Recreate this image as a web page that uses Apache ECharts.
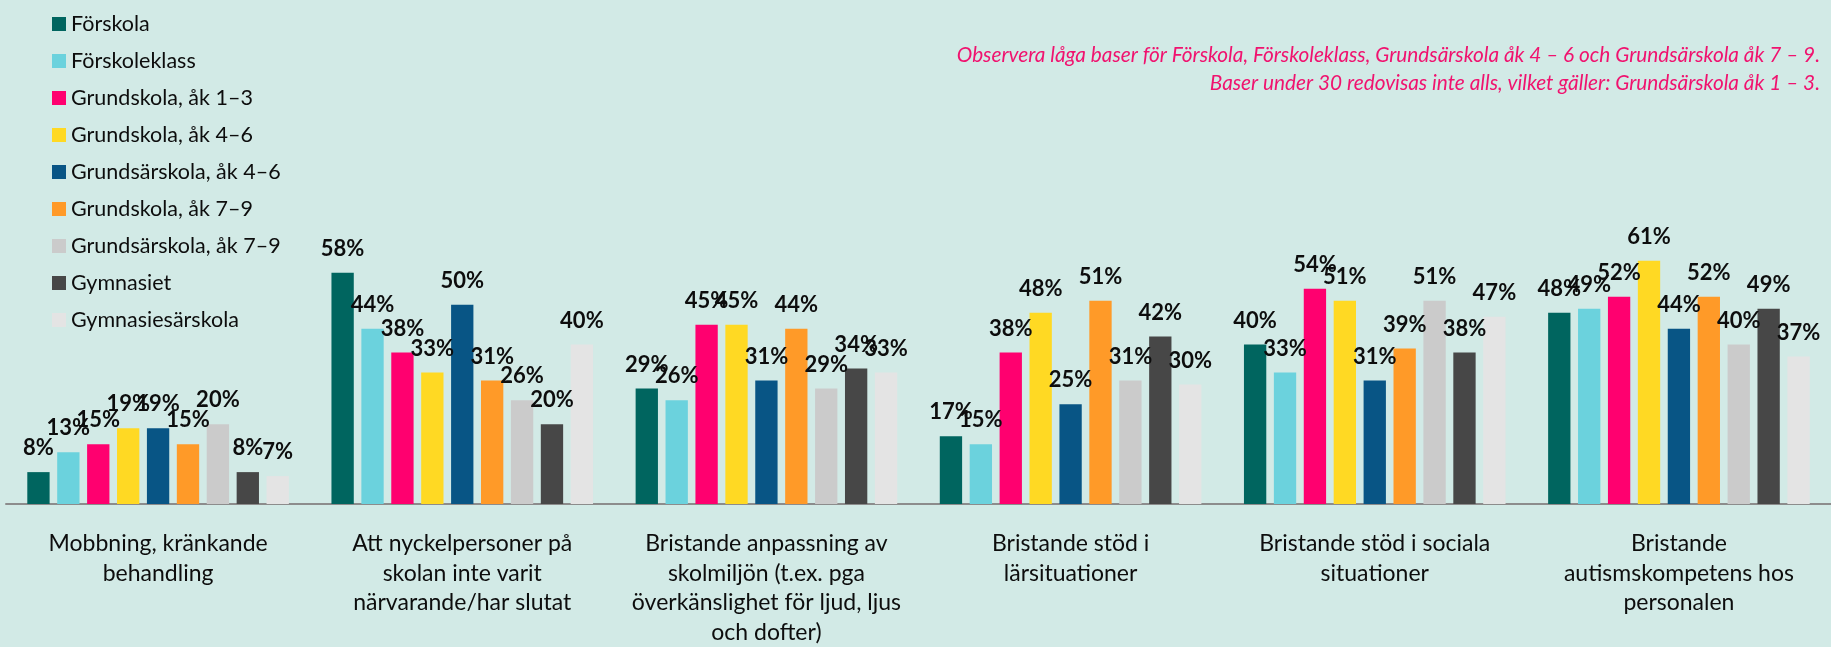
<!DOCTYPE html>
<html lang="sv">
<head>
  <meta charset="UTF-8">
  <title>Orsaker</title>
  <script src="https://cdn.jsdelivr.net/npm/echarts@6/dist/echarts.min.js"></script>
  <style>
    html, body { margin: 0; padding: 0; background: #d2eae6; }
    #chart { width: 1831px; height: 647px; }
  </style>
</head>
<body>
  <div id="chart"></div>
  <script>
    // kategorier på x-axeln
    var categories = [
      'Mobbning, kränkande\nbehandling',
      'Att nyckelpersoner på\nskolan inte varit\nnärvarande/har slutat',
      'Bristande anpassning av\nskolmiljön (t.ex. pga\növerkänslighet för ljud, ljus\noch dofter)',
      'Bristande stöd i\nlärsituationer',
      'Bristande stöd i sociala\nsituationer',
      'Bristande\nautismskompetens hos\npersonalen'
    ];

    // värden i procent, en lista per skolform
    var forskola         = [8, 58, 29, 17, 40, 48];
    var forskoleklass    = [13, 44, 26, 15, 33, 49];
    var grundskola13     = [15, 38, 45, 38, 54, 52];
    var grundskola46     = [19, 33, 45, 48, 51, 61];
    var grundsarskola46  = [19, 50, 31, 25, 31, 44];
    var grundskola79     = [15, 31, 44, 51, 39, 52];
    var grundsarskola79  = [20, 26, 29, 31, 51, 40];
    var gymnasiet        = [8, 20, 34, 42, 38, 49];
    var gymnasiesarskola = [7, 40, 33, 30, 47, 37];

    var names = ['Förskola', 'Förskoleklass', 'Grundskola, åk 1–3', 'Grundskola, åk 4–6',
                 'Grundsärskola, åk 4–6', 'Grundskola, åk 7–9', 'Grundsärskola, åk 7–9',
                 'Gymnasiet', 'Gymnasiesärskola'];
    var values = [forskola, forskoleklass, grundskola13, grundskola46, grundsarskola46,
                  grundskola79, grundsarskola79, gymnasiet, gymnasiesarskola];
    var colors = ['#00655f', '#6bd2dd', '#ff006f', '#ffd923', '#085585',
                  '#ff9a28', '#cbcbcb', '#474747', '#e4e4e4'];

    var note = 'Observera låga baser för Förskola, Förskoleklass, Grundsärskola åk 4 – 6 och Grundsärskola åk 7 – 9.\n' +
               'Baser under 30 redovisas inte alls, vilket gäller: Grundsärskola åk 1 – 3.';

    var series = [];
    for (var i = 0; i < names.length; i++) {
      series.push({
        name: names[i],
        type: 'bar',
        data: values[i],
        barCategoryGap: '14%',
        barGap: '34%',
        itemStyle: { color: colors[i] },
        label: {
          show: true,
          position: 'top',
          distance: 13,
          formatter: '{c}%',
          fontFamily: 'Lato',
          fontWeight: 'bold',
          fontSize: 22,
          color: '#0d0d0d'
        }
      });
    }

    var myChart = echarts.init(document.getElementById('chart'), null, {renderer: 'canvas'});
    myChart.setOption({
      backgroundColor: '#d2eae6',
      animation: false,
      color: colors,
      legend: {
        orient: 'vertical',
        left: 47,
        top: 8,
        itemWidth: 14,
        itemHeight: 14,
        itemGap: 15,
        icon: 'rect',
        textStyle: { fontFamily: 'Lato', fontSize: 21.5, lineHeight: 22, color: '#0d0d0d' },
        data: names
      },
      graphic: [{
        type: 'text',
        right: 11,
        top: 41,
        style: {
          text: note,
          textAlign: 'right',
          fontFamily: 'Lato',
          fontStyle: 'italic',
          fontSize: 20.8,
          lineHeight: 28,
          fill: '#f0136f'
        }
      }],
      grid: { left: 6, width: 1832, top: 225, bottom: 143, containLabel: false },
      xAxis: {
        type: 'category',
        data: categories,
        axisLine: { lineStyle: { color: '#8c8c8c', width: 2 } },
        axisTick: { length: 8, lineStyle: { color: '#8c8c8c', width: 2 } },
        axisLabel: {
          interval: 0,
          margin: 25,
          fontFamily: 'Lato',
          fontSize: 23,
          lineHeight: 29.5,
          color: '#0d0d0d'
        }
      },
      yAxis: {
        type: 'value',
        min: 0,
        max: 70,
        show: false,
        splitLine: { show: false }
      },
      series: series
    });
  </script>
</body>
</html>
